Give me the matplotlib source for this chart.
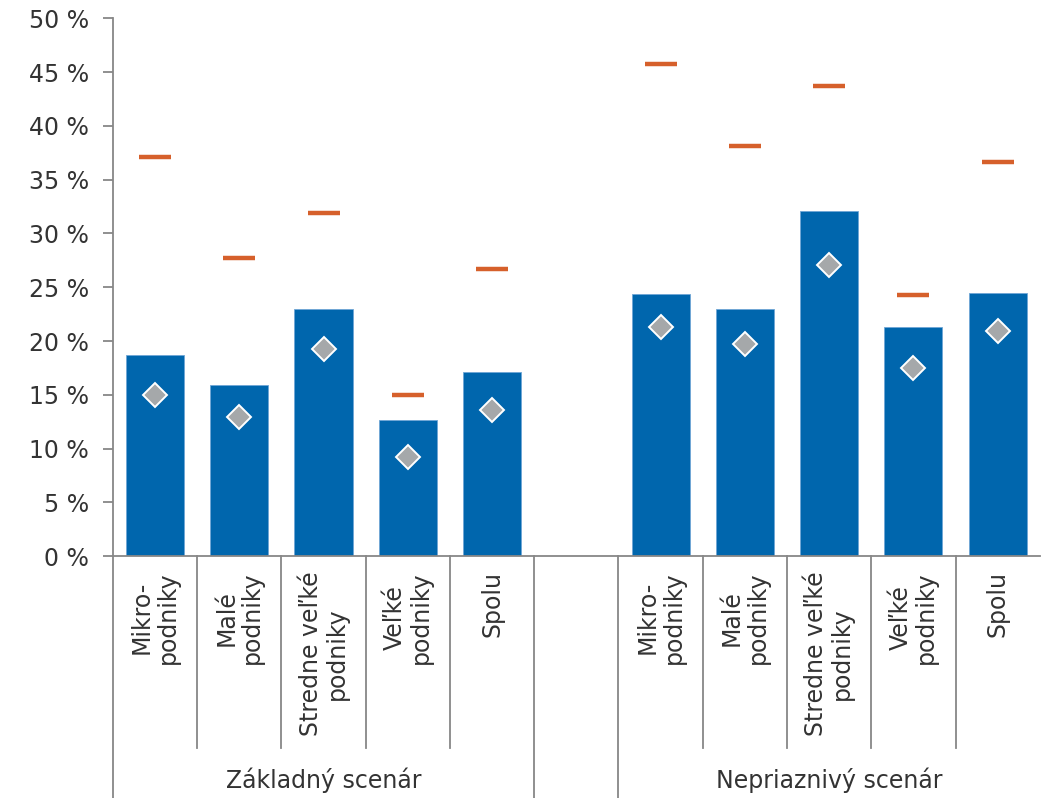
import numpy as np
import matplotlib.pyplot as plt

# Podiel podnikov podľa veľkosti - základný a nepriaznivý scenár
kategorie = ["Mikro-\npodniky", "Malé\npodniky", "Stredne veľké\npodniky",
             "Veľké\npodniky", "Spolu"]
scenare = ["Základný scenár", "Nepriaznivý scenár"]

stlpce_zakl = [18.7, 15.9, 23.0, 12.7, 17.1]
stlpce_nepr = [24.4, 23.0, 32.1, 21.3, 24.5]
ciarky_zakl = [37.1, 27.7, 31.9, 15.0, 26.7]
ciarky_nepr = [45.8, 38.1, 43.7, 24.3, 36.6]
kosostvorce_zakl = [15.0, 12.9, 19.3, 9.2, 13.6]
kosostvorce_nepr = [21.3, 19.7, 27.1, 17.5, 20.9]

y_ticky = list(range(0, 51, 5))

MODRA = "#0066ad"
ORANZOVA = "#d6602b"
SIVA = "#a5a8aa"
OSI = "#878787"
TEXT = "#333333"
VELKOST = 17

plt.rcParams["font.family"] = ["DejaVu Sans"]

n = len(kategorie)
x_zakl = np.arange(n)
x_nepr = np.arange(n) + n + 1  # jedna prázdna pozícia medzi skupinami
x_vsetky = np.concatenate([x_zakl, x_nepr])

fig = plt.figure(figsize=(10.45, 7.98), dpi=100)
ax = fig.add_axes([0.108, 0.303, 0.887, 0.674])

ax.bar(x_vsetky, stlpce_zakl + stlpce_nepr, width=0.69, color=MODRA,
       edgecolor="#6fa6d6", linewidth=0.6, zorder=2)
ax.plot(x_vsetky, ciarky_zakl + ciarky_nepr, linestyle="none", marker="_",
        markersize=23, markeredgewidth=3.2, color=ORANZOVA, zorder=3)
ax.plot(x_vsetky, kosostvorce_zakl + kosostvorce_nepr, linestyle="none",
        marker="D", markersize=12, markerfacecolor=SIVA,
        markeredgecolor="white", markeredgewidth=1.4, zorder=4)

ax.set_xlim(-0.5, 2 * n + 0.5)
ax.set_ylim(0, 50)
ax.set_yticks(y_ticky)
ax.set_yticklabels([f"{v} %" for v in y_ticky], fontsize=VELKOST, color=TEXT)
ax.set_xticks([])

for s in ["top", "right"]:
    ax.spines[s].set_visible(False)
for s in ["left", "bottom"]:
    ax.spines[s].set_color(OSI)
    ax.spines[s].set_linewidth(1.3)
ax.tick_params(axis="y", length=7, width=1.3, color=OSI, pad=10)

# deliace čiary pod osou x
tr = ax.get_xaxis_transform()
for k in range(2 * n + 1):
    hranica = k - 0.5
    dlha = k in (0, n, n + 1)
    y_konec = -0.45 if dlha else -0.357
    ax.plot([hranica, hranica], [0, y_konec], transform=tr, color=OSI,
            linewidth=1.3, clip_on=False)

# popisy kategórií
for xs in (x_zakl, x_nepr):
    for xi, nazov in zip(xs, kategorie):
        ax.text(xi, -0.028, nazov, transform=tr, rotation=90, ha="center",
                va="top", multialignment="center", fontsize=VELKOST,
                color=TEXT, linespacing=1.1)

# popisy scenárov
ax.text((x_zakl[0] + x_zakl[-1]) / 2, -0.416, scenare[0], transform=tr,
        ha="center", va="center", fontsize=VELKOST, color=TEXT)
ax.text((x_nepr[0] + x_nepr[-1]) / 2, -0.416, scenare[1], transform=tr,
        ha="center", va="center", fontsize=VELKOST, color=TEXT)

fig.savefig("out.png", dpi=100)
